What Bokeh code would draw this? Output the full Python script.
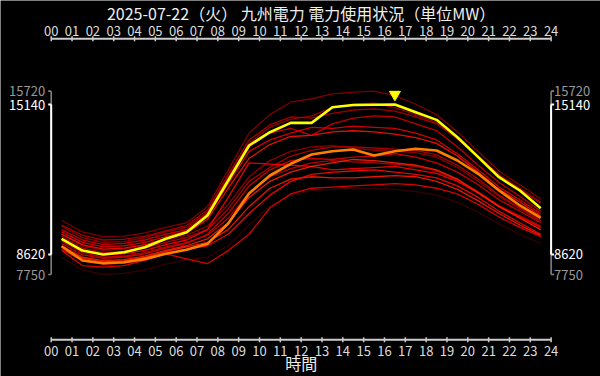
from bokeh.plotting import figure
from bokeh.models import Range1d
from bokeh.core.properties import value
from bokeh.embed import file_html
from bokeh.resources import INLINE

FONT = "Noto Sans CJK JP"

title_text = "2025-07-22（火） 九州電力 電力使用状況（単位MW）"
xlabel_text = "時間"

hours = [0.5, 1.5, 2.5, 3.5, 4.5, 5.5, 6.5, 7.5, 8.5, 9.5, 10.5, 11.5,
         12.5, 13.5, 14.5, 15.5, 16.5, 17.5, 18.5, 19.5, 20.5, 21.5, 22.5, 23.5]
tick_vals = [0, 1, 2, 3, 4, 5, 6, 7, 8, 9, 10, 11, 12, 13, 14, 15, 16, 17, 18, 19, 20, 21, 22, 23, 24]
tick_labels = ["00", "01", "02", "03", "04", "05", "06", "07", "08", "09", "10", "11", "12",
               "13", "14", "15", "16", "17", "18", "19", "20", "21", "22", "23", "24"]

# today (yellow) and comparison day (orange)
today = [9302, 8793, 8620, 8720, 8937, 9302, 9590, 10315, 11836, 13358, 13936, 14343,
         14343, 15023, 15120, 15130, 15140, 14806, 14473, 13719, 12850, 11980, 11401, 10632]
compare = [8980, 8359, 8241, 8285, 8430, 8650, 8822, 9084, 9967, 11271, 12054, 12562,
           12966, 13110, 13184, 12923, 13110, 13214, 13140, 12706, 12127, 11401, 10750, 10215]

# other days of the month (red shades)
day_u1 = [10100, 9600, 9400, 9420, 9560, 9800, 10000, 10700, 12300, 13900, 14700, 15240,
          15390, 15600, 15680, 15720, 15530, 15150, 14700, 13950, 13100, 12250, 11650, 11040]
day_u2 = [9900, 9450, 9250, 9280, 9420, 9650, 9880, 10550, 12100, 13600, 14250, 14600,
          14550, 14750, 14900, 14950, 14850, 14600, 14300, 13650, 12850, 12050, 11450, 10850]
day_u3 = [9700, 9250, 9050, 9100, 9250, 9500, 9700, 10400, 11900, 13300, 13900, 14100,
          13800, 14300, 14550, 14650, 14600, 14300, 14000, 13300, 12500, 11750, 11150, 10500]
day_u4 = [9850, 9350, 9150, 9180, 9350, 9600, 9800, 10450, 12000, 13450, 14150, 14500,
          14650, 15000, 15150, 15200, 15000, 14700, 14350, 13700, 12900, 12100, 11500, 10900]
day_u5 = [9600, 9150, 8950, 9000, 9150, 9400, 9650, 10250, 11700, 13100, 13600, 13900,
          14150, 14100, 14200, 14150, 14100, 13900, 13600, 13000, 12300, 11550, 11000, 10400]
day_u6 = [9500, 9050, 8850, 8900, 9050, 9300, 9550, 10150, 11500, 12800, 13400, 13750,
          13800, 13950, 14000, 13950, 13850, 13700, 13450, 12900, 12200, 11450, 10900, 10300]
day_l1 = [9300, 8800, 8600, 8650, 8800, 9050, 9250, 9700, 11100, 12600, 12550, 12500,
          12450, 12300, 12350, 12400, 12450, 12300, 12150, 11800, 11300, 10700, 10250, 9800]
day_l2 = [9100, 8600, 8450, 8500, 8650, 8900, 9100, 9500, 10400, 11600, 12300, 12700,
          12800, 12750, 12850, 12900, 13000, 12850, 12600, 12200, 11650, 11000, 10500, 10000]
day_l3 = [9000, 8500, 8350, 8400, 8550, 8800, 9000, 9300, 10000, 11100, 11800, 12200,
          12450, 12600, 12750, 12700, 12600, 12500, 12300, 11900, 11300, 10700, 10200, 9700]
day_l4 = [9400, 8900, 8700, 8750, 8900, 9150, 9350, 9700, 10600, 11800, 12400, 12900,
          13150, 13300, 13300, 13250, 13200, 13150, 12950, 12500, 11900, 11200, 10650, 10100]
day_l5 = [8850, 8350, 8200, 8250, 8400, 8650, 8850, 9000, 9500, 10400, 11200, 11800,
          12100, 12200, 12250, 12300, 12200, 12100, 11950, 11600, 11100, 10500, 10000, 9500]
day_l6 = [8790, 8140, 8070, 8140, 8360, 8650, 8430, 8220, 8790, 9500, 10650, 11250,
          11500, 11550, 11600, 11650, 11700, 11650, 11500, 11250, 10800, 10250, 9800, 9400]
day_l7 = [9200, 8700, 8500, 8550, 8700, 8950, 9150, 9450, 10200, 11300, 12000, 12350,
          12600, 12700, 12650, 12600, 12550, 12450, 12250, 11850, 11350, 10750, 10300, 9850]
day_l8 = [8950, 8450, 8300, 8350, 8500, 8750, 8950, 9150, 9700, 10700, 11500, 11900,
          12000, 11950, 11950, 12000, 12050, 12000, 11800, 11450, 10950, 10400, 9900, 9450]
day_l9 = [9500, 9000, 8800, 8850, 9000, 9250, 9450, 9850, 10800, 12000, 12700, 13100,
          13300, 13350, 13250, 13150, 13100, 13050, 12850, 12400, 11800, 11150, 10600, 10050]
day_l10 = [8500, 7950, 7750, 7800, 7950, 8200, 8400, 8500, 9000, 9900, 10700, 11200,
           11400, 11450, 11500, 11500, 11450, 11350, 11200, 10900, 10450, 9950, 9500, 9100]

other_days = [day_l10, day_u1, day_l9, day_u4, day_u2, day_l4, day_l7, day_u3, day_l2,
              day_u5, day_l1, day_l6, day_u6, day_l3, day_l8, day_l5]
other_colors = ["#3a0000", "#8a0000", "#950000", "#a00000", "#b00000", "#bb0000", "#c80000",
                "#d20000", "#dc0000", "#e60000", "#ff0000", "#f00000", "#ff1000", "#ff2000",
                "#ff1800", "#ff0800"]

# ---- figure geometry (frame covers the whole canvas) ----
W, H = 600, 376
PX_PER_H = 20.83
X0 = -50.7 / PX_PER_H
X1 = X0 + W / PX_PER_H
MW_PER_PX = 43.47
Y1 = 19661
Y0 = Y1 - H * MW_PER_PX


def yv(px):
    return Y1 - px * MW_PER_PX


p = figure(width=W, height=H, x_range=Range1d(X0, X1), y_range=Range1d(Y0, Y1),
           output_backend="svg", toolbar_location=None,
           x_axis_location=None, y_axis_location=None,
           background_fill_color="black", border_fill_color="black",
           outline_line_color=None, outline_line_alpha=0,
           min_border_left=0, min_border_right=0, min_border_top=0, min_border_bottom=0)
p.grid.grid_line_color = None
p.grid.visible = False

AXC = "#cccccc"
LABC = "#dddddd"
# x axes (top and bottom), drawn from the tick values
for line_px, lab_px in ((38.3, 30), (339.3, 350)):
    ya = yv(line_px)
    p.segment(x0=[tick_vals[0]], y0=[ya], x1=[tick_vals[-1]], y1=[ya],
              line_color=AXC, line_width=2)
    p.segment(x0=tick_vals, y0=[yv(line_px - 2.5)] * len(tick_vals),
              x1=tick_vals, y1=[yv(line_px + 2.5)] * len(tick_vals),
              line_color=AXC, line_width=1.5)
    p.text(x=tick_vals, y=[yv(lab_px)] * len(tick_vals), text=tick_labels,
           text_align="center", text_baseline="middle",
           text_font=value(FONT), text_font_size="13px", text_color=LABC)

for vals, col in zip(other_days, other_colors):
    p.line(hours, vals, line_color=col, line_width=1.3, line_alpha=0.9)

p.line(hours, compare, line_color="#ff8000", line_width=2.6)
p.line(hours, today, line_color="#ffff00", line_width=2.6)

# peak marker
tmax = max(today)
tmin = min(today)
peak_h = hours[today.index(tmax)]
p.scatter([peak_h], [tmax + 10 * MW_PER_PX], marker="inverted_triangle", size=11,
          fill_color="#ffff00", line_color="#ffff00")

# range brackets (overall range grey, today's range white)
all_vals = [v for d in other_days for v in d] + today + compare
omin, omax = min(all_vals), max(all_vals)
cap = 3 / PX_PER_H
for xa, sgn in ((tick_vals[0], -1), (tick_vals[-1], 1)):
    p.segment(x0=[xa, xa, xa], y0=[omin, omin, omax], x1=[xa, xa + sgn * cap, xa + sgn * cap],
              y1=[omax, omin, omax], line_color="#808080", line_width=1.6)
    p.segment(x0=[xa, xa, xa], y0=[tmin, tmin, tmax], x1=[xa, xa + sgn * cap, xa + sgn * cap],
              y1=[tmax, tmin, tmax], line_color="#ffffff", line_width=2)
    vals = [omax, tmax, tmin, omin]
    cols = ["#999999", "#ffffff", "#ffffff", "#999999"]
    p.text(x=[xa] * 4, y=vals, text=[str(v) for v in vals], x_offset=-6 if sgn < 0 else 3,
           text_align="right" if sgn < 0 else "left", text_baseline="middle",
           text_font=value(FONT), text_font_size="13px", text_color=cols)

p.text(x=[12], y=[yv(12)], text=[title_text], text_align="center", text_baseline="middle",
       text_font=value(FONT), text_font_size="16px", text_color="#eeeeee")
p.text(x=[12], y=[yv(362)], text=[xlabel_text], text_align="center", text_baseline="middle",
       text_font=value(FONT), text_font_size="16px", text_color="#eeeeee")

open("out.html", "w").write(file_html(p, INLINE))
